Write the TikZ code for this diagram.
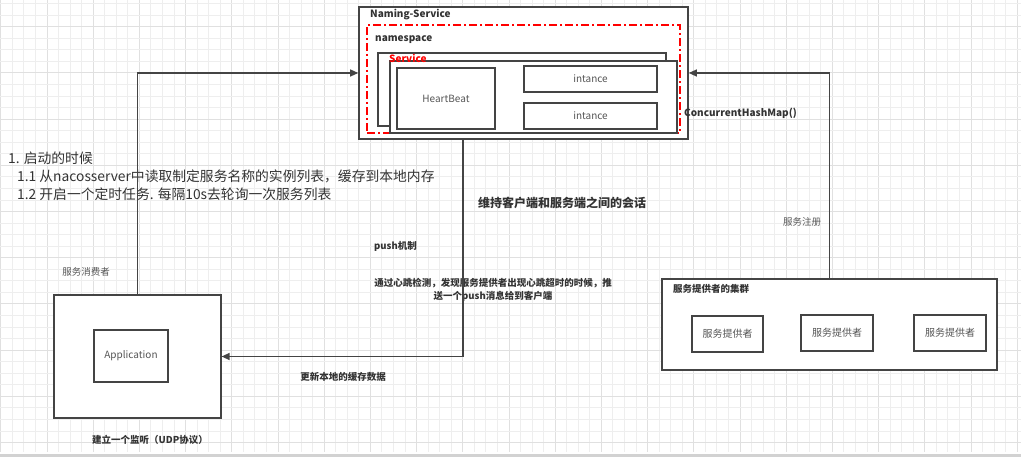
\documentclass[tikz,border=0pt]{standalone}
\usepackage{fontspec}
\setmainfont{Noto Sans CJK SC}
\usetikzlibrary{arrows.meta}

\definecolor{linegray}{HTML}{444444}
\definecolor{textgray}{HTML}{555555}
\definecolor{textdark}{HTML}{333333}
\definecolor{gridminor}{HTML}{EEEEEE}
\definecolor{gridmajor}{HTML}{E0E0E0}

\tikzset{
  box/.style={draw=linegray,line width=1.2pt,rectangle,inner sep=0pt,fill=white,
    text=textgray,font=\fontsize{10}{12}\selectfont},
  nsbox/.style={draw=red,line width=1.2pt,rectangle,inner sep=0pt,
    dash pattern=on 8pt off 3pt on 2pt off 3pt},
  title/.style={inner sep=0pt,text=textdark,font=\bfseries\fontsize{10}{12}\selectfont},
  lbl/.style={inner sep=0pt,text=textgray,font=\fontsize{9.5}{12}\selectfont},
  blbl/.style={inner sep=0pt,text=textdark,font=\bfseries\fontsize{9.5}{13}\selectfont},
  conn/.style={draw=linegray,line width=1.3pt,-{Triangle[length=8pt,width=7pt]}}
}

\begin{document}
\begin{tikzpicture}[x=1pt,y=-1pt]
\useasboundingbox (0,0) rectangle (1021,457);
\fill[white] (0,0) rectangle (1021,457);

% grid
\foreach \i in {0,...,88} {
  \pgfmathtruncatemacro{\m}{mod(\i,4)}
  \ifnum\m=0 \def\gc{gridmajor}\else \def\gc{gridminor}\fi
  \draw[\gc,line width=1pt] ({\i*11.55+0.8},0) -- ({\i*11.55+0.8},452);
}
\foreach \j in {0,...,39} {
  \pgfmathtruncatemacro{\m}{mod(\j,4)}
  \ifnum\m=2 \def\gc{gridmajor}\else \def\gc{gridminor}\fi
  \draw[\gc,line width=1pt] (0,{\j*11.55+3.7}) -- (1021,{\j*11.55+3.7});
}
\fill[gray!35] (0,454) rectangle (1021,457);

% Naming-Service
\node[box,line width=1.6pt,minimum width=329pt,minimum height=132pt] (naming) at (523.5,73) {};
\node[title,anchor=west] (namingtitle) at (370,15) {Naming-Service};
\node[nsbox,minimum width=313pt,minimum height=108pt] (ns) at (523.5,79) {};
\node[title,anchor=west] (nstitle) at (375,40) {namespace};
\node[box,minimum width=288pt,minimum height=73pt] (svcback) at (522,89.5) {};
\node[box,minimum width=287pt,minimum height=72pt] (svc) at (533.5,97) {};
\node[title,text=red,anchor=west] (svctitle) at (389,58) {Service};
\node[box,minimum width=98pt,minimum height=61pt] (hb) at (446,98.5) {HeartBeat};
\node[box,minimum width=133pt,minimum height=26pt] (inst1) at (590.5,79) {intance};
\node[box,minimum width=133pt,minimum height=26pt] (inst2) at (590.5,116) {intance};
\node[title,anchor=west] (chm) at (684,113) {ConcurrentHashMap()};

% consumer
\node[box,minimum width=167pt,minimum height=123pt] (app) at (137.5,356.5) {};
\node[box,minimum width=74pt,minimum height=52pt] (appin) at (131,356) {Application};
\node[lbl] (consumer) at (86,272) {服务消费者};
\node[blbl] (listen) at (150,440) {建立一个监听（UDP协议）};

% provider cluster
\node[box,minimum width=335pt,minimum height=91pt] (cluster) at (829.5,324.5) {};
\node[blbl,anchor=west] (clustertitle) at (673,289) {服务提供者的集群};
\node[box,minimum width=71pt,minimum height=36pt] (p1) at (727.5,334) {服务提供者};
\node[box,minimum width=72pt,minimum height=36pt] (p2) at (837,333) {服务提供者};
\node[box,minimum width=72pt,minimum height=36pt] (p3) at (950,333) {服务提供者};
\node[lbl] (register) at (802,222) {服务注册};

% notes
\node[inner sep=0pt,text=textdark,align=left,anchor=west,
  font=\fontsize{13.8}{18}\selectfont] (startup) at (8,176)
  {1. 启动的时候\\
   \hspace*{9pt}1.1 从nacosserver中读取制定服务名称的实例列表，缓存到本地内存\\
   \hspace*{9pt}1.2 开启一个定时任务. 每隔10s去轮询一次服务列表};
\node[title,font=\bfseries\fontsize{12}{14}\selectfont] (session) at (562,203) {维持客户端和服务端之间的会话};
\node[blbl,anchor=west] (pushmech) at (374,246) {push机制};
\node[blbl,align=center] (pushnote) at (493,289.5)
  {通过心跳检测，发现服务提供者出现心跳超时的时候，推\\送一个push消息给到客户端};
\node[blbl] (update) at (343,377) {更新本地的缓存数据};

% connectors
\coordinate (pushout) at (463,139);
\draw[conn] (app.north) |- (naming.west);
\draw[conn] (cluster.north) |- (naming.east);
\draw[conn] (pushout) |- (app.east);
\end{tikzpicture}
\end{document}
